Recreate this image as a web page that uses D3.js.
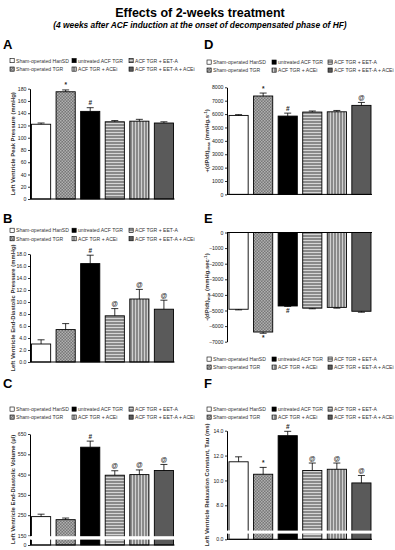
<!DOCTYPE html>
<html>
<head>
<meta charset="utf-8">
<script src="https://cdn.jsdelivr.net/npm/d3@7"></script>
<style>
  body { margin: 0; background: #fff; }
  svg { display: block; font-family: "Liberation Sans", Arial, sans-serif; }
</style>
</head>
<body>
<svg id="chart" width="395" height="550"></svg>
<script>
// groups, in bar order
const groups = ["Sham-operated HanSD", "Sham-operated TGR", "untreated ACF TGR",
  "ACF TGR + EET-A", "ACF TGR + ACEi", "ACF TGR + EET-A + ACEi"];
// legend is 3 columns x 2 rows
const legendOrder = [0, 2, 3, 1, 4, 5];

// A - LV peak pressure
const peakP = [122, 175, 143, 126, 127, 124];
const peakPErr = [2, 3, 6, 2, 3, 2];
const peakPMarks = ["", "*", "#", "", "", ""];
const peakPTicks = [0, 20, 40, 60, 80, 100, 120, 140, 160, 180];

// B - LV end-diastolic pressure
const edp = [3.0, 5.4, 16.4, 7.7, 10.5, 8.8];
const edpErr = [0.7, 1.0, 1.4, 1.2, 1.6, 1.5];
const edpMarks = ["", "", "#", "@", "@", "@"];
const edpTicks = [0, 2, 4, 6, 8, 10, 12, 14, 16, 18];

// C - LV end-diastolic volume
const edv = [243, 228, 585, 447, 450, 470];
const edvErr = [12, 8, 30, 22, 23, 30];
const edvMarks = ["", "", "#", "@", "@", "@"];
const edvTicks = [0, 150, 250, 350, 450, 550, 650];

// D - +(dP/dt)max
const dpMax = [5900, 7350, 5850, 6150, 6170, 6650];
const dpMaxErr = [60, 220, 220, 80, 100, 220];
const dpMaxMarks = ["", "*", "#", "", "", "@"];
const dpMaxTicks = [0, 1000, 2000, 3000, 4000, 5000, 6000, 7000, 8000];

// E - -(dP/dt)min
const dpMin = [-4920, -6380, -4710, -4850, -4800, -5050];
const dpMinErr = [40, 80, 30, 40, 50, 60];
const dpMinMarks = ["", "*", "#", "", "", ""];
const dpMinTicks = [-7000, -6000, -5000, -4000, -3000, -2000, -1000, 0];

// F - relaxation constant tau
const tau = [11.5, 10.5, 13.6, 10.8, 10.9, 9.8];
const tauErr = [0.4, 0.55, 0.35, 0.6, 0.5, 0.6];
const tauMarks = ["", "*", "#", "@", "@", "@"];
const tauTicks = [0, 8, 10, 12, 14];

const svg = d3.select("#chart");
const defs = svg.append("defs");

// fills for the six groups
function pattern(id, w, h, bg, draw) {
  const p = defs.append("pattern").attr("id", id)
    .attr("patternUnits", "userSpaceOnUse").attr("width", w).attr("height", h);
  p.append("rect").attr("width", w).attr("height", h).attr("fill", bg);
  draw(p);
}
pattern("checker", 3, 3, "#777", p => {
  p.append("rect").attr("width", 1.5).attr("height", 1.5).attr("fill", "#b0b0b0");
  p.append("rect").attr("x", 1.5).attr("y", 1.5).attr("width", 1.5).attr("height", 1.5).attr("fill", "#b0b0b0");
});
pattern("hstripe", 4, 3, "#8a8a8a", p => {
  p.append("rect").attr("width", 4).attr("height", 1).attr("fill", "#d6d6d6");
});
pattern("vstripe", 3, 4, "#8a8a8a", p => {
  p.append("rect").attr("width", 1).attr("height", 4).attr("fill", "#d0d0d0");
});
const fills = ["#fff", "url(#checker)", "#000", "url(#hstripe)", "url(#vstripe)", "#5a5a5a"];

// title
svg.append("text").attr("x", 200).attr("y", 17).attr("text-anchor", "middle")
  .attr("font-weight", "bold").attr("font-size", 12.5).text("Effects of 2-weeks treatment");
svg.append("text").attr("x", 200).attr("y", 28).attr("text-anchor", "middle")
  .attr("font-weight", "bold").attr("font-style", "italic").attr("font-size", 8.4)
  .text("(4 weeks after ACF induction at the onset of decompensated phase of HF)");

function legend(cols, rows) {
  const g = svg.append("g");
  legendOrder.forEach((gi, k) => {
    const cx = cols[k % 3], cy = rows[Math.floor(k / 3)];
    g.append("rect").attr("x", cx).attr("y", cy).attr("width", 4.2).attr("height", 4.2)
      .attr("fill", fills[gi]).attr("stroke", "#000").attr("stroke-width", 0.6);
    g.append("text").attr("x", cx + 6).attr("y", cy + 4).attr("font-size", 5.1)
      .attr("fill", "#333").text(groups[gi]);
  });
}

function panel(p) {
  svg.append("text").attr("x", p.lx).attr("y", p.ly).attr("font-weight", "bold")
    .attr("font-size", 13).text(p.letter);
  legend(p.legCols, p.legRows);

  const x = d3.scaleBand().domain(d3.range(6)).range(p.xr).paddingInner(0.22);
  const y = d3.scaleLinear().domain(p.dom).range(p.rng);
  const g = svg.append("g");
  const neg = p.values[0] < 0;

  g.selectAll(".bar").data(p.values).join("rect")
    .attr("x", (d, i) => x(i))
    .attr("width", x.bandwidth())
    .attr("y", d => neg ? y(0) : y(d))
    .attr("height", d => Math.abs(y(0) - y(d)))
    .attr("fill", (d, i) => fills[i])
    .attr("stroke", "#000").attr("stroke-width", 0.9);

  // error bars (outward only)
  const tip = (d, i) => neg ? y(d - p.err[i]) : y(d + p.err[i]);
  const cx = i => x(i) + x.bandwidth() / 2;
  g.selectAll(".eb").data(p.values).join("line")
    .attr("x1", (d, i) => cx(i)).attr("x2", (d, i) => cx(i))
    .attr("y1", d => y(d)).attr("y2", tip)
    .attr("stroke", "#000").attr("stroke-width", 0.8);
  g.selectAll(".cap").data(p.values).join("line")
    .attr("x1", (d, i) => cx(i) - 3.5).attr("x2", (d, i) => cx(i) + 3.5)
    .attr("y1", tip).attr("y2", tip)
    .attr("stroke", "#000").attr("stroke-width", 0.8);
  g.selectAll(".mark").data(p.values).join("text")
    .attr("x", (d, i) => cx(i))
    .attr("y", (d, i) => neg ? tip(d, i) + 7 : tip(d, i) - 2.5)
    .attr("text-anchor", "middle").attr("font-size", 6.5).attr("font-weight", "bold")
    .attr("fill", "#222")
    .text((d, i) => p.marks[i]);

  // axis break
  if (p.gap) {
    g.append("rect").attr("x", p.ax - 3).attr("y", p.gap[0]).attr("width", p.xr[1] - p.ax + 5)
      .attr("height", p.gap[1] - p.gap[0]).attr("fill", "#fff");
  }

  const axis = d3.axisLeft(y).tickValues(p.ticks).tickSize(2).tickSizeOuter(0)
    .tickFormat(p.fmt || d3.format("d"));
  const ag = svg.append("g").attr("transform", `translate(${p.ax},0)`).call(axis);
  ag.select(".domain").attr("stroke-width", 1);
  ag.selectAll(".tick line").attr("stroke-width", 0.8);
  ag.selectAll(".tick text").attr("font-size", 5.2).attr("fill", "#222")
    .attr("font-family", "Liberation Sans, Arial, sans-serif").attr("x", -3.5);
  if (p.gap) {
    ag.append("rect").attr("x", -3).attr("y", p.gap[0]).attr("width", 6)
      .attr("height", p.gap[1] - p.gap[0]).attr("fill", "#fff");
  }

  // x axis line
  svg.append("line").attr("x1", p.ax).attr("x2", p.xr[1] + 1)
    .attr("y1", y(0)).attr("y2", y(0)).attr("stroke", "#000").attr("stroke-width", 1);

  // y label
  const ymid = (p.rng[0] + p.rng[p.rng.length - 1]) / 2;
  const lab = svg.append("text")
    .attr("transform", `translate(${p.ylx},${ymid}) rotate(-90)`)
    .attr("text-anchor", "middle").attr("font-size", 5.9).attr("font-weight", "bold")
    .attr("fill", "#333");
  p.label.forEach(s => {
    const t = lab.append("tspan").text(s.t);
    if (s.sub) t.attr("font-size", 4.3).attr("dy", 1.3);
    if (s.sup) t.attr("font-size", 4.3).attr("dy", -2.2);
    if (s.back) t.attr("dy", s.back);
  });
}

const leftCols = [10, 72, 129], rightCols = [207, 272, 328];
const leftX = [31.5, 173.5], rightX = [229, 371];

panel({ letter: "A", lx: 3, ly: 49, legCols: leftCols, legRows: [58.5, 67],
  xr: leftX, ax: 30, dom: [0, 180], rng: [199, 88.7], ticks: peakPTicks,
  values: peakP, err: peakPErr, marks: peakPMarks, ylx: 15,
  label: [{ t: "Left Ventricle Peak Pressure (mmHg)" }] });

panel({ letter: "B", lx: 3, ly: 223, legCols: leftCols, legRows: [228.2, 236.6],
  xr: leftX, ax: 30, dom: [0, 18], rng: [362, 254], ticks: edpTicks,
  fmt: d3.format(".1f"), values: edp, err: edpErr, marks: edpMarks, ylx: 15,
  label: [{ t: "Left Ventricle End-Diastolic Pressure (mmHg)" }] });

panel({ letter: "C", lx: 3, ly: 388, legCols: leftCols, legRows: [407, 415],
  xr: leftX, ax: 30, dom: [0, 150, 650], rng: [545, 535.5, 434], ticks: edvTicks,
  gap: [536.2, 539.6], values: edv, err: edvErr, marks: edvMarks, ylx: 15,
  label: [{ t: "Left Ventricle End-Diastolic Volume (µl)" }] });

panel({ letter: "D", lx: 204, ly: 49, legCols: rightCols, legRows: [60, 68],
  xr: rightX, ax: 227, dom: [0, 8000], rng: [194.4, 87.3], ticks: dpMaxTicks,
  values: dpMax, err: dpMaxErr, marks: dpMaxMarks, ylx: 209,
  label: [{ t: "+(dP/dt)" }, { t: "max", sub: true }, { t: " (mmHg.s", back: -1.3 }, { t: "-1", sup: true }, { t: ")", back: 2.2 }] });

panel({ letter: "E", lx: 204, ly: 223, legCols: rightCols, legRows: [357, 365],
  xr: rightX, ax: 227, dom: [-7000, 0], rng: [341.7, 232.5], ticks: dpMinTicks,
  values: dpMin, err: dpMinErr, marks: dpMinMarks, ylx: 209,
  label: [{ t: "-(dP/dt)" }, { t: "min", sub: true }, { t: " (mmHg.sec", back: -1.3 }, { t: "-1", sup: true }, { t: ")", back: 2.2 }] });

panel({ letter: "F", lx: 204, ly: 388, legCols: rightCols, legRows: [407, 415],
  xr: rightX, ax: 227, dom: [0, 6, 14], rng: [539.3, 530.2, 430.7], ticks: tauTicks,
  fmt: d3.format(".1f"), gap: [530.6, 533.6], values: tau, err: tauErr, marks: tauMarks, ylx: 209,
  label: [{ t: "Left Ventricle Relaxation Constant, Tau (ms)" }] });
</script>
</body>
</html>
